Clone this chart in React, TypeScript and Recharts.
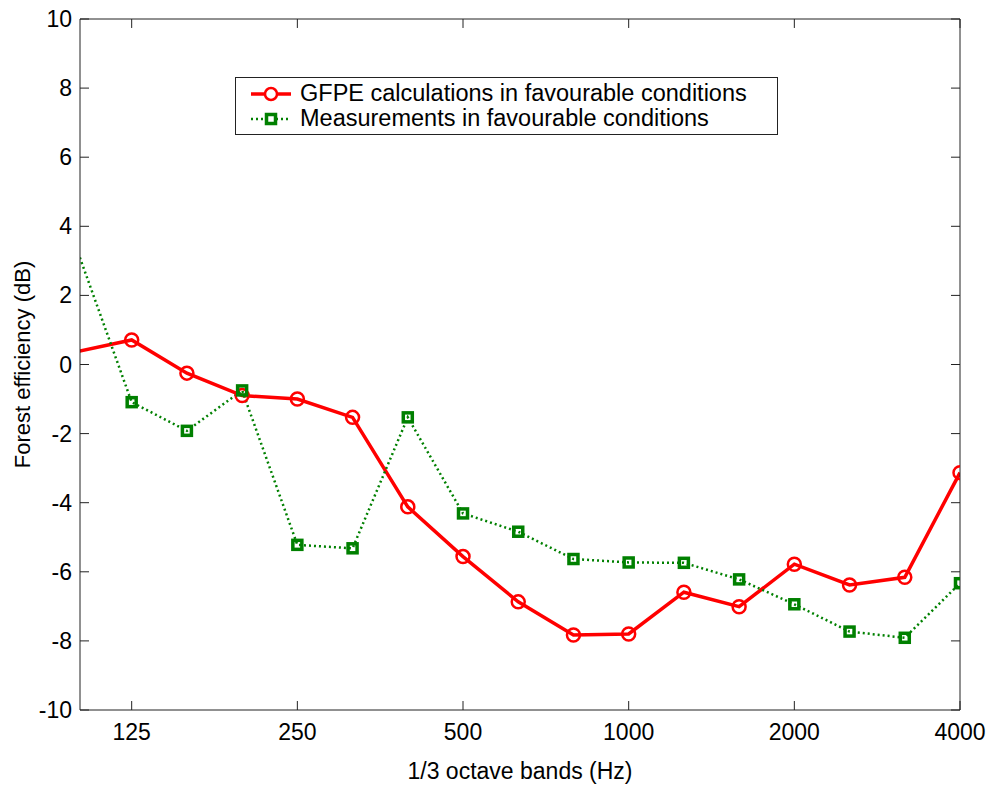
import React from "react";
import { LineChart, Line, XAxis, YAxis, ReferenceLine } from "recharts";

// 1/3 octave band centres, first one (100 Hz) sits just left of the visible axis
const bands = ["100", "125", "160", "200", "250", "315", "400", "500", "630", "800", "1000", "1250", "1600", "2000", "2500", "3150", "4000"];
const gfpe = [0.37, 0.71, -0.25, -0.9, -1.0, -1.53, -4.12, -5.56, -6.87, -7.83, -7.8, -6.59, -7.01, -5.78, -6.38, -6.16, -3.13];
const measured = [3.37, -1.09, -1.92, -0.75, -5.22, -5.32, -1.53, -4.31, -4.84, -5.63, -5.73, -5.74, -6.22, -6.94, -7.73, -7.91, -6.33];
const xTicks = [1, 4, 7, 10, 13, 16];
const yTicks = [-10, -8, -6, -4, -2, 0, 2, 4, 6, 8, 10];

const X_MIN = 0.064;
const X_MAX = 16;
const FONT = "'Liberation Sans', Arial, sans-serif";
const RED = "#ff0000";
const GREEN = "#008000";
const AXIS = "#222";
// inward tick length (~9px) in data units
const TICK_Y = 0.26;
const TICK_X = 0.163;

const data = bands.map((b, i) => ({ idx: i, band: b, gfpe: gfpe[i], meas: measured[i] }));

// eslint-disable-next-line @typescript-eslint/no-explicit-any
const RedDot = (p: any) =>
  p.payload.idx < X_MIN ? <g key={p.key} /> :
    <circle key={p.key} cx={p.cx} cy={p.cy} r={6.5} fill="none" stroke={RED} strokeWidth={2.5} />;

// eslint-disable-next-line @typescript-eslint/no-explicit-any
const GreenDot = (p: any) =>
  p.payload.idx < X_MIN ? <g key={p.key} /> :
    <rect key={p.key} x={p.cx - 4.5} y={p.cy - 4.5} width={9} height={9} fill="none" stroke={GREEN} strokeWidth={3.5} />;

// eslint-disable-next-line @typescript-eslint/no-explicit-any
const LeftTick = (p: any) => (
  <text x={p.x} y={p.y} textAnchor="end" dominantBaseline="central" style={{ fontFamily: FONT, fontSize: 23, fill: "#000" }}>
    {p.payload.value}
  </text>
);
// eslint-disable-next-line @typescript-eslint/no-explicit-any
const BottomTick = (p: any) => (
  <text x={p.x} y={p.y} textAnchor="middle" dominantBaseline="central" style={{ fontFamily: FONT, fontSize: 23, fill: "#000" }}>
    {bands[p.payload.value]}
  </text>
);

const LegendBox = () => (
  <div style={{ position: "absolute", left: 235, top: 77, border: `1px solid ${AXIS}`, background: "#fff", width: 543, height: 58,
    fontFamily: FONT, fontSize: 23.5, color: "#000", boxSizing: "border-box", paddingTop: 3 }}>
    <div style={{ display: "flex", alignItems: "center", height: 25 }}>
      <svg width={64} height={20} style={{ flexShrink: 0 }}>
        <line x1={15} x2={55} y1={10} y2={10} stroke={RED} strokeWidth={3.5} />
        <circle cx={35} cy={10} r={6} fill="#fff" stroke={RED} strokeWidth={2.5} />
      </svg>
      <span>GFPE calculations in favourable conditions</span>
    </div>
    <div style={{ display: "flex", alignItems: "center", height: 25 }}>
      <svg width={64} height={20} style={{ flexShrink: 0 }}>
        <line x1={15} x2={55} y1={10} y2={10} stroke={GREEN} strokeWidth={2.5} strokeDasharray="2 3" />
        <rect x={30.5} y={5.5} width={9} height={9} fill="#fff" stroke={GREEN} strokeWidth={3.5} />
      </svg>
      <span>Measurements in favourable conditions</span>
    </div>
  </div>
);

// eslint-disable-next-line @typescript-eslint/no-explicit-any
const YTitle = (props: any) => {
  const vb = props.viewBox;
  const cx = vb.x + 22;
  const cy = vb.y + vb.height / 2;
  return (
    <text x={cx} y={cy} transform={`rotate(-90 ${cx} ${cy})`} textAnchor="middle" dominantBaseline="central"
      style={{ fontFamily: FONT, fontSize: 22, fill: "#000" }}>
      Forest efficiency (dB)
    </text>
  );
};

export default function App() {
  const seg = { xAxisId: "b", yAxisId: "l", stroke: AXIS, strokeWidth: 1, ifOverflow: "visible" as const };
  return (
    <div style={{ position: "relative", width: 987, height: 787, background: "#fff" }}>
      <style>{"body{margin:0;background:#fff}"}</style>
      <LineChart width={987} height={787} data={data} margin={{ top: 18, right: 26, left: 0, bottom: 0 }}>
        <XAxis xAxisId="b" dataKey="idx" type="number" domain={[X_MIN, X_MAX]} allowDataOverflow ticks={xTicks}
          height={77} tick={BottomTick} tickSize={0} tickMargin={22} tickLine={false} axisLine={{ stroke: AXIS }}
          label={{ value: "1/3 octave bands (Hz)", position: "insideBottom", offset: 8, style: { fontFamily: FONT, fontSize: 23, fill: "#000" } }} />
        <XAxis xAxisId="t" orientation="top" dataKey="idx" type="number" domain={[X_MIN, X_MAX]} allowDataOverflow ticks={xTicks}
          height={1} tick={false} tickLine={false} axisLine={{ stroke: AXIS }} />
        <YAxis yAxisId="l" type="number" domain={[-10, 10]} ticks={yTicks} width={80} tick={LeftTick}
          tickSize={0} tickMargin={8} tickLine={false} axisLine={{ stroke: AXIS }} interval={0}
          label={<YTitle />} />
        <YAxis yAxisId="r" orientation="right" type="number" domain={[-10, 10]} ticks={yTicks} width={1}
          tick={false} tickLine={false} axisLine={{ stroke: AXIS }} interval={0} />
        {xTicks.map(t => (
          <ReferenceLine key={`b${t}`} {...seg} segment={[{ x: t, y: -10 }, { x: t, y: -10 + TICK_Y }]} />
        ))}
        {xTicks.map(t => (
          <ReferenceLine key={`t${t}`} {...seg} segment={[{ x: t, y: 10 }, { x: t, y: 10 - TICK_Y }]} />
        ))}
        {yTicks.map(v => (
          <ReferenceLine key={`l${v}`} {...seg} segment={[{ x: X_MIN, y: v }, { x: X_MIN + TICK_X, y: v }]} />
        ))}
        {yTicks.map(v => (
          <ReferenceLine key={`r${v}`} {...seg} segment={[{ x: X_MAX, y: v }, { x: X_MAX - TICK_X, y: v }]} />
        ))}
        <Line xAxisId="b" yAxisId="l" dataKey="gfpe" stroke={RED} strokeWidth={3.5} dot={RedDot}
          isAnimationActive={false} />
        <Line xAxisId="b" yAxisId="l" dataKey="meas" stroke={GREEN} strokeWidth={2.5} strokeDasharray="2 3"
          dot={GreenDot} isAnimationActive={false} />
      </LineChart>
      <LegendBox />
    </div>
  );
}
